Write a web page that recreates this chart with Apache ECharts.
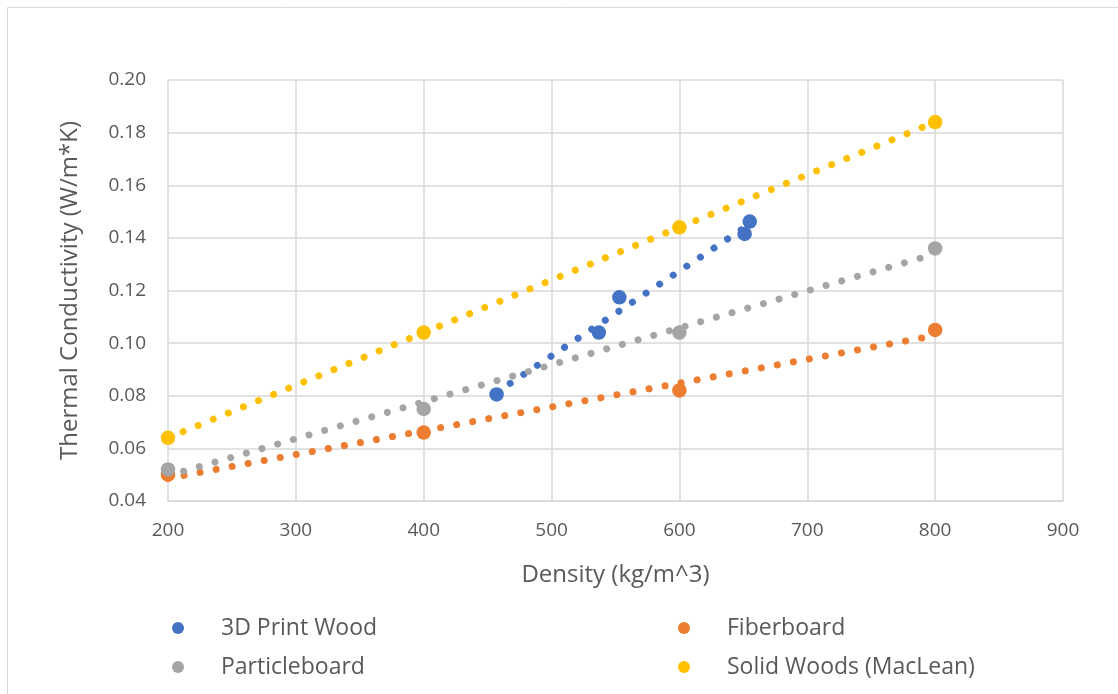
<!DOCTYPE html>
<html>
<head>
<meta charset="utf-8">
<script src="https://cdn.jsdelivr.net/npm/echarts@6/dist/echarts.min.js"></script>
<style>
html,body{margin:0;padding:0;background:#fff;}
#chart{width:1118px;height:694px;}
</style>
</head>
<body>
<div id="chart"></div>
<script>
// ---- data ----
const seriesNames = ['3D Print Wood', 'Fiberboard', 'Particleboard', 'Solid Woods (MacLean)'];
const printX = [457, 537, 553, 651, 655];
const printY = [0.0805, 0.104, 0.1174, 0.1415, 0.1462];
const densityX = [200, 400, 600, 800];
const fiberY = [0.050, 0.066, 0.082, 0.105];
const particleY = [0.052, 0.075, 0.104, 0.136];
const solidY = [0.064, 0.104, 0.144, 0.184];
const xTicks = [200, 300, 400, 500, 600, 700, 800, 900];
const yTicks = [0.04, 0.06, 0.08, 0.10, 0.12, 0.14, 0.16, 0.18, 0.20];
const xTitle = 'Density (kg/m^3)';
const yTitle = 'Thermal Conductivity (W/m*K)';

const colors = ['#4472C4', '#ED7D31', '#A5A5A5', '#FFC000'];
const FONT = '"Open Sans", "Liberation Sans", sans-serif';
const TXT = '#595959';

function pairs(xs, ys) { return xs.map((x, i) => [x, ys[i]]); }
// least-squares linear trendline over the data range (like Excel's trendline)
function linTrend(xs, ys) {
  const n = xs.length;
  const mx = xs.reduce((a, b) => a + b, 0) / n;
  const my = ys.reduce((a, b) => a + b, 0) / n;
  let sxy = 0, sxx = 0;
  for (let i = 0; i < n; i++) { sxy += (xs[i] - mx) * (ys[i] - my); sxx += (xs[i] - mx) * (xs[i] - mx); }
  const b = sxy / sxx, a = my - b * mx;
  const lo = Math.min(...xs), hi = Math.max(...xs);
  return [[lo, a + b * lo], [hi, a + b * hi]];
}

const sets = [
  [printX, printY],
  [densityX, fiberY],
  [densityX, particleY],
  [densityX, solidY]
];

const series = [];
sets.forEach((s, i) => {
  series.push({
    name: seriesNames[i] + ' trend',
    type: 'line',
    data: linTrend(s[0], s[1]),
    showSymbol: false,
    silent: true,
    z: 1,
    lineStyle: { color: colors[i], width: 7, type: [0.01, 16.3], cap: 'round' },
    itemStyle: { color: colors[i] }
  });
});
sets.forEach((s, i) => {
  series.push({
    name: seriesNames[i],
    type: 'scatter',
    data: pairs(s[0], s[1]),
    symbol: 'circle',
    symbolSize: 14.5,
    z: 3,
    itemStyle: { color: colors[i], opacity: 1 }
  });
});

const legendBase = {
  icon: 'circle', itemWidth: 12, itemHeight: 12, selectedMode: false, padding: 0,
  textStyle: { fontFamily: FONT, fontSize: 23, color: TXT, padding: [0, 0, 0, 32], lineHeight: 26 }
};
const legendPos = [[172, 615], [678, 615], [172, 654], [678, 654]];

const chart = echarts.init(document.getElementById('chart'), null, { renderer: 'canvas' });
chart.setOption({
  animation: false,
  backgroundColor: '#fff',
  textStyle: { fontFamily: FONT },
  grid: { left: 168, right: 55, top: 80, bottom: 193, containLabel: false },
  xAxis: {
    type: 'value', min: xTicks[0], max: xTicks[xTicks.length - 1], interval: 100,
    name: xTitle, nameLocation: 'middle', nameGap: 62,
    nameTextStyle: { fontFamily: FONT, fontSize: 24, color: TXT },
    axisLine: { show: true, lineStyle: { color: '#D9D9D9', width: 1.5 } },
    axisTick: { show: false },
    axisLabel: { fontFamily: FONT, fontSize: 19, color: TXT, margin: 20 },
    splitLine: { show: true, lineStyle: { color: '#D9D9D9', width: 1.5 } }
  },
  yAxis: {
    type: 'value', min: yTicks[0], max: yTicks[yTicks.length - 1], interval: 0.02,
    name: yTitle, nameLocation: 'middle', nameGap: 86, nameRotate: 90,
    nameTextStyle: { fontFamily: FONT, fontSize: 24, color: TXT },
    axisLine: { show: false },
    axisTick: { show: false },
    axisLabel: { fontFamily: FONT, fontSize: 19, color: TXT, margin: 22, formatter: v => v.toFixed(2) },
    splitLine: { show: true, lineStyle: { color: '#D9D9D9', width: 1.5 } }
  },
  legend: legendPos.map((p, i) => Object.assign({}, legendBase, { data: [seriesNames[i]], left: p[0], top: p[1] })),
  graphic: [{
    type: 'rect', silent: true, z: -1,
    shape: { x: 7.5, y: 7.5, width: 1300, height: 1000 },
    style: { fill: null, stroke: '#D9D9D9', lineWidth: 1 }
  }],
  series: series
});
</script>
</body>
</html>
